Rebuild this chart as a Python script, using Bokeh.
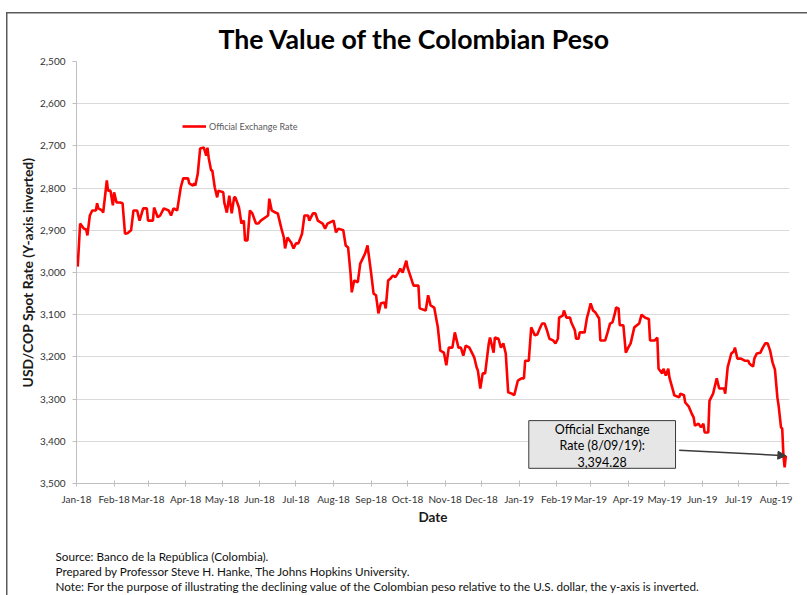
import pandas as pd
from bokeh.plotting import figure
from bokeh.models import (Range1d, FixedTicker, NumeralTickFormatter, DatetimeTickFormatter,
                          Label, BoxAnnotation, Arrow, NormalHead, ColumnDataSource, Title)
from bokeh.embed import file_html
from bokeh.resources import INLINE

# ---------------- data ----------------
dates = [
    "2018-01-02", "2018-01-04", "2018-01-07", "2018-01-09", "2018-01-10", "2018-01-12", "2018-01-14",
    "2018-01-17", "2018-01-18", "2018-01-19", "2018-01-22", "2018-01-23", "2018-01-26", "2018-01-27",
    "2018-01-29", "2018-01-31", "2018-02-01", "2018-02-03", "2018-02-06", "2018-02-08", "2018-02-10",
    "2018-02-12", "2018-02-15", "2018-02-17", "2018-02-20", "2018-02-22", "2018-02-25", "2018-02-28",
    "2018-03-01", "2018-03-05", "2018-03-06", "2018-03-09", "2018-03-11", "2018-03-14", "2018-03-18",
    "2018-03-20", "2018-03-22", "2018-03-25", "2018-03-28", "2018-03-30", "2018-04-03", "2018-04-04",
    "2018-04-07", "2018-04-08", "2018-04-09", "2018-04-11", "2018-04-13", "2018-04-16", "2018-04-18",
    "2018-04-19", "2018-04-20", "2018-04-22", "2018-04-23", "2018-04-25", "2018-04-27", "2018-04-28",
    "2018-05-02", "2018-05-03", "2018-05-05", "2018-05-07", "2018-05-09", "2018-05-11", "2018-05-12",
    "2018-05-15", "2018-05-17", "2018-05-19", "2018-05-20", "2018-05-22", "2018-05-24", "2018-05-26",
    "2018-05-29", "2018-05-31", "2018-06-02", "2018-06-08", "2018-06-09", "2018-06-11", "2018-06-14",
    "2018-06-16", "2018-06-19", "2018-06-21", "2018-06-22", "2018-06-24", "2018-06-27", "2018-06-29",
    "2018-07-01", "2018-07-03", "2018-07-06", "2018-07-08", "2018-07-11", "2018-07-12", "2018-07-15",
    "2018-07-17", "2018-07-19", "2018-07-23", "2018-07-25", "2018-07-27", "2018-08-01", "2018-08-03",
    "2018-08-05", "2018-08-09", "2018-08-11", "2018-08-13", "2018-08-15", "2018-08-16", "2018-08-18",
    "2018-08-21", "2018-08-23", "2018-08-25", "2018-08-27", "2018-08-29", "2018-09-01", "2018-09-03",
    "2018-09-05", "2018-09-07", "2018-09-09", "2018-09-12", "2018-09-13", "2018-09-15", "2018-09-17",
    "2018-09-19", "2018-09-21", "2018-09-23", "2018-09-25", "2018-09-27", "2018-09-30", "2018-10-01",
    "2018-10-05", "2018-10-06", "2018-10-10", "2018-10-11", "2018-10-16", "2018-10-18", "2018-10-20",
    "2018-10-23", "2018-10-26", "2018-10-28", "2018-10-31", "2018-11-02", "2018-11-04", "2018-11-07",
    "2018-11-09", "2018-11-12", "2018-11-14", "2018-11-16", "2018-11-18", "2018-11-21", "2018-11-25",
    "2018-11-27", "2018-11-28", "2018-11-30", "2018-12-02", "2018-12-04", "2018-12-07", "2018-12-08",
    "2018-12-11", "2018-12-12", "2018-12-15", "2018-12-17", "2018-12-19", "2018-12-21", "2018-12-23",
    "2018-12-26", "2018-12-28", "2018-12-31", "2019-01-03", "2019-01-05", "2019-01-06", "2019-01-09",
    "2019-01-11", "2019-01-14", "2019-01-16", "2019-01-18", "2019-01-20", "2019-01-22", "2019-01-24",
    "2019-01-26", "2019-01-29", "2019-01-31", "2019-02-02", "2019-02-03", "2019-02-06", "2019-02-07",
    "2019-02-09", "2019-02-12", "2019-02-13", "2019-02-16", "2019-02-17", "2019-02-19", "2019-02-20",
    "2019-02-24", "2019-02-26", "2019-02-27", "2019-03-01", "2019-03-03", "2019-03-05", "2019-03-08",
    "2019-03-09", "2019-03-13", "2019-03-15", "2019-03-17", "2019-03-19", "2019-03-21", "2019-03-22",
    "2019-03-24", "2019-03-25", "2019-03-28", "2019-03-30", "2019-04-01", "2019-04-03", "2019-04-06",
    "2019-04-10", "2019-04-12", "2019-04-15", "2019-04-18", "2019-04-19", "2019-04-23", "2019-04-25",
    "2019-04-26", "2019-04-29", "2019-04-30", "2019-05-02", "2019-05-04", "2019-05-05", "2019-05-08",
    "2019-05-09", "2019-05-13", "2019-05-14", "2019-05-17", "2019-05-18", "2019-05-21", "2019-05-23",
    "2019-05-25", "2019-05-26", "2019-05-29", "2019-05-31", "2019-06-02", "2019-06-03", "2019-06-06",
    "2019-06-07", "2019-06-10", "2019-06-11", "2019-06-13", "2019-06-15", "2019-06-19", "2019-06-20",
    "2019-06-22", "2019-06-25", "2019-06-27", "2019-06-28", "2019-06-30", "2019-07-03", "2019-07-06",
    "2019-07-09", "2019-07-10", "2019-07-13", "2019-07-14", "2019-07-16", "2019-07-19", "2019-07-21",
    "2019-07-23", "2019-07-25", "2019-07-27", "2019-07-29", "2019-07-31", "2019-08-02", "2019-08-03",
    "2019-08-05", "2019-08-06", "2019-08-07", "2019-08-08", "2019-08-09",
]

rates = [
    2986, 2884, 2896, 2898, 2912, 2865, 2853,
    2853, 2836, 2848, 2853, 2858, 2782, 2806,
    2806, 2841, 2810, 2834, 2834, 2836, 2908,
    2907, 2900, 2853, 2853, 2877, 2848, 2848,
    2877, 2877, 2846, 2869, 2865, 2848, 2853,
    2865, 2848, 2853, 2798, 2777, 2777, 2789,
    2794, 2789, 2794, 2766, 2706, 2704, 2723,
    2704, 2728, 2758, 2758, 2798, 2822, 2806,
    2810, 2836, 2858, 2818, 2860, 2822, 2822,
    2846, 2884, 2877, 2924, 2924, 2853, 2860,
    2884, 2884, 2877, 2865, 2825, 2853, 2858,
    2860, 2896, 2917, 2943, 2917, 2929, 2943,
    2931, 2931, 2908, 2865, 2865, 2877, 2860,
    2860, 2877, 2884, 2896, 2884, 2877, 2905,
    2896, 2900, 2936, 2941, 3002, 3047, 3019,
    3023, 2979, 2967, 2955, 2936, 3002, 3050,
    3054, 3097, 3073, 3071, 3085, 3019, 3014,
    3007, 3011, 3002, 2991, 3000, 2972, 2988,
    3023, 3031, 3031, 3085, 3090, 3054, 3078,
    3083, 3130, 3185, 3190, 3220, 3178, 3178,
    3142, 3178, 3178, 3197, 3173, 3178, 3201,
    3225, 3232, 3275, 3239, 3239, 3168, 3154,
    3190, 3154, 3157, 3178, 3168, 3192, 3284,
    3287, 3291, 3256, 3251, 3251, 3209, 3209,
    3130, 3149, 3147, 3133, 3121, 3121, 3137,
    3157, 3161, 3168, 3157, 3107, 3102, 3090,
    3107, 3107, 3118, 3137, 3157, 3157, 3142,
    3142, 3107, 3097, 3073, 3090, 3095, 3109,
    3161, 3161, 3142, 3121, 3118, 3097, 3083,
    3085, 3125, 3125, 3190, 3178, 3168, 3130,
    3121, 3100, 3107, 3110, 3161, 3161, 3154,
    3228, 3239, 3228, 3244, 3228, 3249, 3280,
    3291, 3296, 3287, 3291, 3308, 3318, 3332,
    3344, 3363, 3358, 3367, 3358, 3379, 3379,
    3304, 3287, 3275, 3251, 3275, 3275, 3287,
    3225, 3192, 3187, 3178, 3204, 3204, 3209,
    3209, 3216, 3223, 3204, 3192, 3190, 3178,
    3168, 3168, 3185, 3213, 3230, 3296, 3315,
    3367, 3370, 3434, 3462, 3434,
]

y_ticks = [2500, 2600, 2700, 2800, 2900, 3000, 3100, 3200, 3300, 3400, 3500]
month_ticks = [
    "2018-01-01", "2018-02-01", "2018-03-01", "2018-04-01", "2018-05-01", "2018-06-01",
    "2018-07-01", "2018-08-01", "2018-09-01", "2018-10-01", "2018-11-01", "2018-12-01",
    "2019-01-01", "2019-02-01", "2019-03-01", "2019-04-01", "2019-05-01", "2019-06-01",
    "2019-07-01", "2019-08-01",
]
x_start, x_end = "2018-01-01", "2019-08-12"

title_text = "The Value of the Colombian Peso"
y_label = "USD/COP Spot Rate (Y-axis inverted)"
x_label = "Date"
series_name = "Official Exchange Rate"
callout_lines = ["Official Exchange", "Rate (8/09/19):", "3,394.28"]
footer_lines = [
    "Source: Banco de la República (Colombia).",
    "Prepared by Professor Steve H. Hanke, The Johns Hopkins University.",
    "Note: For the purpose of illustrating the declining value of the Colombian peso relative to the U.S. dollar, the y-axis is inverted.",
]


def ms(d):
    return (pd.Timestamp(d) - pd.Timestamp("1970-01-01")).total_seconds() * 1000.0


FONT = "Lato"

src = ColumnDataSource(dict(date=pd.to_datetime(dates), rate=rates))

p = figure(width=807, height=595, output_backend="svg", toolbar_location=None,
           x_axis_type="datetime",
           x_range=Range1d(ms(x_start), ms(x_end)),
           y_range=Range1d(3500, 2500),
           min_border_left=76, min_border_right=18, min_border_top=61, min_border_bottom=112)
p.outline_line_color = None
p.background_fill_color = "white"
p.border_fill_color = None
# thin grey frame along the top and left edges of the picture (drawn behind the canvas)
p.styles = {
    "background-color": "white",
    "background-image": "linear-gradient(#5a5a5a, #5a5a5a), linear-gradient(#5a5a5a, #5a5a5a)",
    "background-size": "100% 1.5px, 1.5px 100%",
    "background-position": "6px 12px, 6px 12px",
    "background-repeat": "no-repeat",
}

# main title
p.title.text = title_text
p.title.align = "left"
p.title.offset = 142
p.title.text_font = FONT
p.title.text_font_style = "bold"
p.title.text_font_size = "26.7px"
p.title.text_color = "#000000"
p.title.standoff = 13

line = p.line("date", "rate", source=src, line_color="#ff0000", line_width=2.6,
              legend_label=series_name)

# axes
p.yaxis.ticker = FixedTicker(ticks=y_ticks)
p.yaxis.formatter = NumeralTickFormatter(format="0,0")
p.xaxis.ticker = FixedTicker(ticks=[ms(m) for m in month_ticks])
fmt = "%b-%y"
p.xaxis.formatter = DatetimeTickFormatter(milliseconds=fmt, seconds=fmt, minsec=fmt, minutes=fmt,
                                          hourmin=fmt, hours=fmt, days=fmt, months=fmt, years=fmt,
                                          context=None)
for ax in (p.xaxis, p.yaxis):
    ax.axis_line_color = "#bfbfbf"
    ax.axis_line_width = 1
    ax.major_tick_line_color = "#bfbfbf"
    ax.minor_tick_line_color = None
    ax.major_label_text_font = FONT
    ax.major_label_text_font_size = "10px"
    ax.major_label_text_color = "#333333"
    ax.axis_label_text_font = FONT
    ax.axis_label_text_font_style = "bold"
    ax.axis_label_text_color = "#1a1a1a"

p.yaxis.axis_label = y_label
p.yaxis.axis_label_text_font_size = "13.9px"
p.yaxis.major_tick_in = 0
p.yaxis.major_tick_out = 4
p.yaxis.major_label_standoff = 7
p.yaxis.axis_label_standoff = 1

p.xaxis.axis_label = x_label
p.xaxis.axis_label_text_font_size = "13.5px"
p.xaxis.major_tick_in = 3
p.xaxis.major_tick_out = 3
p.xaxis.major_label_standoff = 6
p.xaxis.axis_label_standoff = 1

p.xgrid.grid_line_color = None
p.ygrid.grid_line_color = "#d9d9d9"
p.ygrid.grid_line_width = 1

# blank gap between the x axis and the notes
p.add_layout(Title(text=" ", align="left", standoff=5.5, text_font=FONT,
                   text_font_size="10px", text_color="white"), "below")

# footer notes as extra titles below the x axis
for t in footer_lines:
    p.add_layout(Title(text=t, align="left", offset=-21, standoff=-1.5,
                       text_font=FONT, text_font_size="11.7px", text_font_style="normal",
                       text_color="#111111"), "below")

# legend
lg = p.legend[0]
lg.location = (106, 351)
lg.border_line_color = None
lg.background_fill_alpha = 0
lg.padding = 0
lg.margin = 0
lg.glyph_width = 24
lg.glyph_height = 12
lg.label_height = 12
lg.label_standoff = 3
lg.label_text_font = FONT
lg.label_text_font_size = "9px"
lg.label_text_color = "#595959"

# callout box + arrow to the last observation
box_left, box_right = ms("2019-01-09"), ms("2019-05-10")
p.add_layout(BoxAnnotation(left=box_left, right=box_right, top=3351, bottom=3464,
                           fill_color="#e6e6e6", fill_alpha=1, line_color="#3a3a3a",
                           line_width=1, line_alpha=1))
cx = (box_left + box_right) / 2
for i, t in enumerate(callout_lines):
    p.add_layout(Label(x=cx, y=3372 + 38 * i, text=t, text_align="center",
                       text_baseline="middle", text_font=FONT, text_font_size="12.5px",
                       text_color="#000000"))
p.add_layout(Arrow(end=NormalHead(size=8, fill_color="#3a3a3a", line_color="#3a3a3a"),
                   x_start=ms("2019-05-13"), y_start=3421,
                   x_end=ms(dates[-1]), y_end=rates[-1],
                   line_color="#3a3a3a", line_width=1.5))

open("out.html", "w").write(file_html(p, INLINE))
